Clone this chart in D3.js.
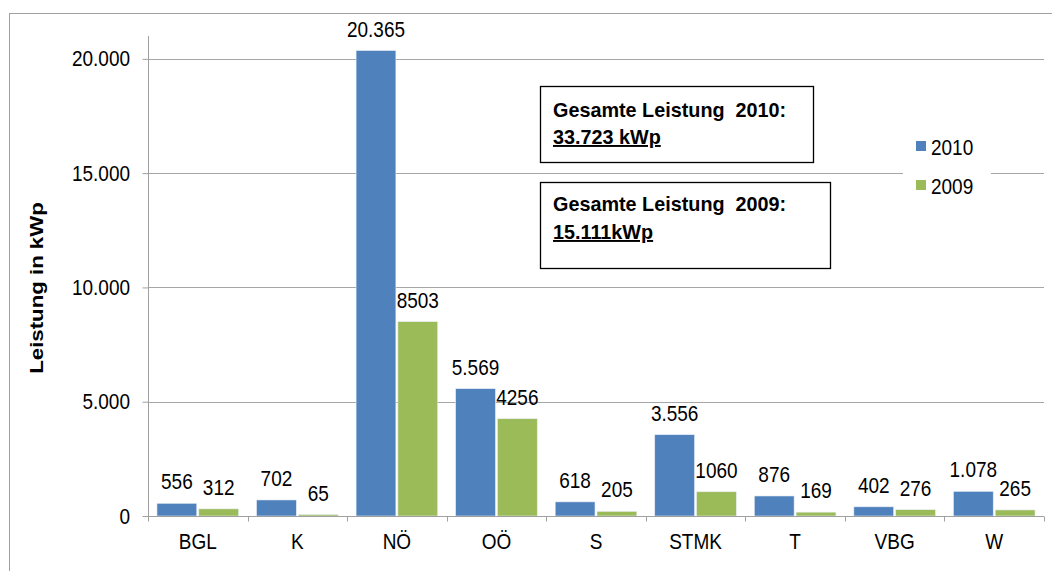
<!DOCTYPE html>
<html><head><meta charset="utf-8">
<script src="https://cdn.jsdelivr.net/npm/d3@7"></script>
<style>body{margin:0;background:#fff}svg{display:block;font-family:"Liberation Sans",Arial,sans-serif}</style>
</head><body><svg id="c" width="1052" height="571"></svg>
<script>
const categories = ["BGL","K","NÖ","OÖ","S","STMK","T","VBG","W"];
const values2010 = [556,702,20365,5569,618,3556,876,402,1078];
const values2009 = [312,65,8503,4256,205,1060,169,276,265];
const labels2010 = ["556","702","20.365","5.569","618","3.556","876","402","1.078"];
const labels2009 = ["312","65","8503","4256","205","1060","169","276","265"];
const yTicks = [0,5000,10000,15000,20000];
const yTickLabels = ["0","5.000","10.000","15.000","20.000"];
const seriesNames = ["2010","2009"];
const colors = ["#4F81BD","#9BBB59"];

const FS = 19, SY = 1.12;
const svg = d3.select("#c");
const L=148, R=1044, T=36, B=516;
function txt(g, x, y, s, anchor){
  return g.append("text").attr("transform",`translate(${x},${y}) scale(1,${SY})`)
    .attr("text-anchor",anchor||"start").attr("font-size",FS).attr("fill","#000").text(s);
}
// outer border
svg.append("rect").attr("x",9.5).attr("y",13.5).attr("width",1100).attr("height",600)
  .attr("fill","none").attr("stroke","#A0A0A0").attr("stroke-width",1);

const x = d3.scaleBand().domain(categories).range([L,R]).padding(0);
const y = d3.scaleLinear().domain([0,21000]).range([B,T]);
const bw = x.bandwidth();
const padL = bw*0.09, barW = bw*0.40, gap = bw*0.02;

// gridlines
svg.append("g").selectAll("line").data(yTicks.slice(1)).join("line")
  .attr("x1",L).attr("x2",R).attr("y1",d=>Math.round(y(d))+0.5).attr("y2",d=>Math.round(y(d))+0.5)
  .attr("stroke","#A6A6A6").attr("stroke-width",1);

// y axis
const yAxis = d3.axisLeft(y).tickValues(yTicks).tickSize(6).tickFormat("");
const gy = svg.append("g").attr("transform",`translate(${L+0.5},0)`).call(yAxis);
gy.select(".domain").attr("stroke","#A0A0A0").attr("d",`M-0,${T}V${B}`);
gy.selectAll(".tick line").attr("stroke","#A0A0A0");
yTicks.forEach((v,i)=>txt(svg, 130, y(v)+7.5, yTickLabels[i], "end"));

// bars
const series = [values2010, values2009];
const labels = [labels2010, labels2009];
series.forEach((vals,s)=>{
  const g = svg.append("g");
  g.selectAll("rect").data(vals).join("rect")
    .attr("x",(d,i)=>x(categories[i])+padL+s*(barW+gap))
    .attr("y",d=>y(d)).attr("width",barW).attr("height",d=>B-y(d))
    .attr("fill",colors[s]).attr("stroke","#E8EEF6").attr("stroke-width",0.6);
  vals.forEach((d,i)=>txt(g, x(categories[i])+padL+s*(barW+gap)+barW/2, y(d)-14, labels[s][i], "middle"));
});

// x axis
const gx = svg.append("g").attr("transform",`translate(0,${B+0.5})`);
gx.append("line").attr("x1",L).attr("x2",R).attr("stroke","#A0A0A0");
gx.selectAll("line.tk").data(d3.range(categories.length+1)).join("line").attr("class","tk")
  .attr("x1",i=>Math.round(L+i*bw)+0.5).attr("x2",i=>Math.round(L+i*bw)+0.5).attr("y1",0).attr("y2",5).attr("stroke","#A0A0A0");
categories.forEach(c=>txt(gx, x(c)+bw/2, 32, c, "middle"));

// y title
svg.append("text").attr("transform","translate(43,288) rotate(-90) scale(1.17,1)").attr("text-anchor","middle")
  .attr("font-size",19).attr("font-weight","bold").text("Leistung in kWp");

// legend
const lg = svg.append("g");
lg.append("rect").attr("x",903).attr("y",128).attr("width",88).attr("height",74).attr("fill","#fff");
seriesNames.forEach((n,i)=>{
  lg.append("rect").attr("x",916).attr("y",141+i*39).attr("width",10).attr("height",10).attr("fill",colors[i]);
  txt(lg, 931, 155+i*39, n);
});

// text boxes
const boxes = [
  {x:540,y:86,w:273,h:76,l1:"Gesamte Leistung\u00A0\u00A02010:",l2:"33.723 kWp",d1:31,d2:58},
  {x:540,y:182,w:290,h:86,l1:"Gesamte Leistung\u00A0\u00A02009:",l2:"15.111kWp",d1:29,d2:57}
];
boxes.forEach((b,i)=>{
  svg.append("rect").attr("x",b.x+0.5).attr("y",b.y+0.5).attr("width",b.w).attr("height",b.h)
    .attr("fill","#fff").attr("stroke","#000").attr("stroke-width",1.3);
  svg.append("text").attr("transform",`translate(553,${b.y+b.d1}) scale(1,0.98)`).attr("font-size",19.8).attr("font-weight","bold").text(b.l1);
  svg.append("text").attr("transform",`translate(553,${b.y+b.d2}) scale(1,0.98)`).attr("font-size",19.8).attr("font-weight","bold")
    .attr("text-decoration","underline").text(b.l2);
});
</script></body></html>
